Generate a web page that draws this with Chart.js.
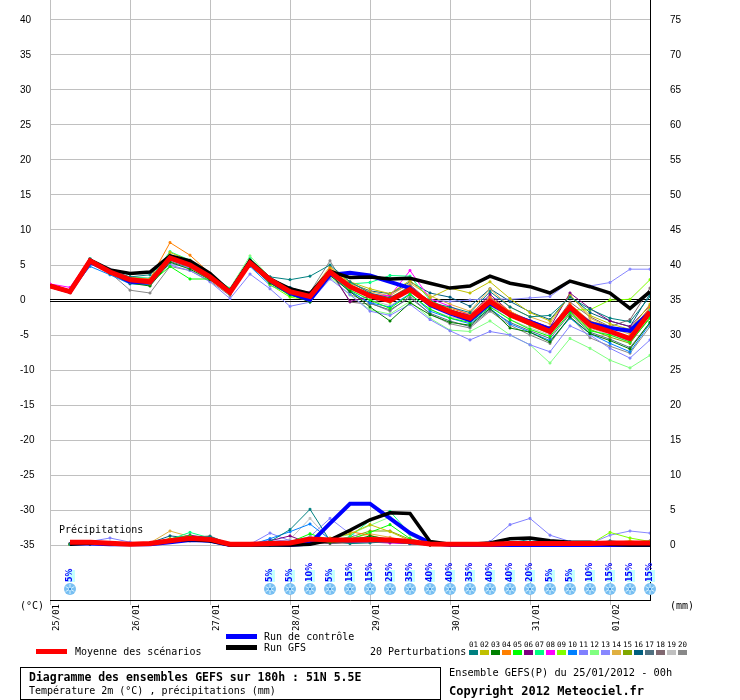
<!DOCTYPE html>
<html lang="fr">
<head>
<meta charset="utf-8">
<title>Diagramme des ensembles GEFS</title>
<script src="https://cdn.jsdelivr.net/npm/chart.js@4.4.1/dist/chart.umd.min.js"></script>
<style>
  body { margin: 0; background: #fff; }
  #wrap { position: relative; width: 740px; height: 700px; overflow: hidden;
          font-family: "DejaVu Sans Mono", monospace; color: #000; }
  #ensembleChart { position: absolute; left: 0; top: 0; }
  .txt { position: absolute; white-space: nowrap; font-size: 10px; line-height: 12px; }
  .bar { position: absolute; width: 31px; height: 5px; }
  .sw { position: absolute; width: 9px; height: 5px; top: 650px; }
  .num { position: absolute; top: 640px; width: 11px; text-align: center; font-size: 7.5px; line-height: 9px; }
  #infoBox { position: absolute; left: 20px; top: 667px; width: 419px; height: 31px; border: 1px solid #000; }
</style>
</head>
<body>
<div id="wrap">
  <canvas id="ensembleChart" width="740" height="700"></canvas>
  <div class="txt" style="left:59px;top:524px;">Précipitations</div>
  <div class="txt" style="left:20px;top:600px;">(°C)</div>
  <div class="txt" style="left:670px;top:600px;">(mm)</div>

  <div class="bar" style="left:36px;top:649px;background:#ff0000;"></div>
  <div class="txt" style="left:75px;top:646px;">Moyenne des scénarios</div>
  <div class="bar" style="left:226px;top:634px;background:#0000ff;"></div>
  <div class="txt" style="left:264px;top:631px;">Run de contrôle</div>
  <div class="bar" style="left:226px;top:645px;background:#000000;"></div>
  <div class="txt" style="left:264px;top:642px;">Run GFS</div>
  <div class="txt" style="left:370px;top:646px;">20 Perturbations</div>
  <div id="swatches"></div>

  <div id="infoBox"></div>
  <div class="txt" style="left:29px;top:671px;font-weight:bold;font-size:11.5px;">Diagramme des ensembles GEFS sur 180h : 51N 5.5E</div>
  <div class="txt" style="left:29px;top:685px;">Température 2m (°C) , précipitations (mm)</div>
  <div class="txt" style="left:449px;top:666px;font-size:10.3px;">Ensemble GEFS(P) du 25/01/2012 - 00h</div>
  <div class="txt" style="left:449px;top:684px;font-weight:bold;font-size:12px;line-height:14px;">Copyright 2012 Meteociel.fr</div>
</div>

<script>
//Time steps in hours since 25/01/2012 00h
const stepHours = [0, 6, 12, 18, 24, 30, 36, 42, 48, 54, 60, 66, 72, 78, 84, 90,
  96, 102, 108, 114, 120, 126, 132, 138, 144, 150, 156, 162, 168, 174, 180];
const dayTicks = [0, 24, 48, 72, 96, 120, 144, 168];
const dayLabels = ['25/01', '26/01', '27/01', '28/01', '29/01', '30/01', '31/01', '01/02'];
const tempTicks = [-35, -30, -25, -20, -15, -10, -5, 0, 5, 10, 15, 20, 25, 30, 35, 40];
const precipTicks = [0, 5, 10, 15, 20, 25, 30, 35, 40, 45, 50, 55, 60, 65, 70, 75];

//Temperature 2m (°C)
const meanTemp = [2.0, 1.2, 5.6, 4.0, 2.9, 2.6, 6.0, 5.0, 3.3, 1.1, 5.3, 2.9, 1.2, 0.5, 4.0, 1.9,
  0.6, -0.1, 1.5, -0.5, -1.7, -2.6, -0.2, -2.1, -3.3, -4.5, -1.0, -3.6, -4.5, -5.5, -1.7];
const controlTemp = [2.0, 1.2, 5.4, 4.1, 2.6, 2.5, 6.1, 5.1, 3.4, 1.2, 5.4, 2.8, 1.0, 0.0, 3.6, 3.9,
  3.5, 2.6, 1.7, -0.7, -1.9, -2.9, -0.5, -2.1, -3.1, -4.2, -1.2, -3.3, -4.0, -4.4, -1.7];
const gfsTemp = [2.0, 1.2, 5.7, 4.3, 3.8, 4.0, 6.3, 5.6, 3.8, 1.2, 5.6, 3.0, 1.6, 0.9, 4.1, 3.2,
  3.3, 3.0, 3.1, 2.4, 1.7, 2.0, 3.4, 2.4, 1.9, 1.0, 2.7, 1.9, 1.0, -1.2, 1.2];

//Precipitations (mm)
const meanPrecip = [null, 0.4, 0.4, 0.25, 0.1, 0.2, 0.6, 0.95, 0.8, 0.1, 0.1, 0.2, 0.3, 0.85, 0.7, 0.7,
  0.8, 0.7, 0.5, 0.15, 0.1, 0.1, 0.1, 0.2, 0.2, 0.2, 0.2, 0.2, 0.3, 0.3, 0.3];
const controlPrecip = [null, 0.2, 0.2, 0.1, 0.1, 0.1, 0.4, 0.7, 0.6, 0, 0, 0.1, 0, 0.2, 3.1, 5.9,
  5.9, 3.8, 1.7, 0.3, 0, 0, 0, 0, 0, 0, 0, 0, 0, 0, 0];
const gfsPrecip = [null, 0.1, 0.3, 0.2, 0.1, 0.2, 0.6, 0.8, 0.6, 0, 0, 0, 0, 0.1, 0.7, 2.1,
  3.6, 4.6, 4.5, 0.5, 0.1, 0.1, 0.3, 0.9, 1.0, 0.6, 0.4, 0.4, 0.1, 0, 0];

//20 perturbations
const perturbationColors = ['#008080', '#c0c000', '#008000', '#ff8000', '#00ff00',
  '#800080', '#00ff80', '#ff00ff', '#80ff00', '#0080ff',
  '#8080ff', '#80ff80', '#8888ff', '#e0b040', '#80a800',
  '#005f7f', '#507080', '#806870', '#c0c0c0', '#888888'];

const perturbationTemps = [
  [2.0, 1.1, 5.8, 4.2, 3.3, 3.6, 6.4, 5.4, 3.6, 1.4, 5.6, 3.3, 2.9, 3.4, 5.0, 2.6, 1.0, 0.3, 1.9, -0.4, -1.0, -1.8, 1.2, -1.0, -2.4, -2.2, 0.4, -1.3, -2.6, -3.1, 0.5],
  [2.1, 1.2, 5.5, 3.9, 2.5, 2.3, 6.8, 5.6, 3.5, 1.2, 5.6, 3.0, 1.5, 0.9, 4.4, 2.6, 1.6, 0.9, 2.8, 0.3, 1.7, 1.0, 2.6, 0.2, -1.8, -3.0, 0.6, -2.2, -3.4, -4.2, -0.6],
  [2.0, 1.2, 5.4, 3.8, 2.4, 2.0, 5.4, 4.4, 2.9, 0.9, 5.0, 2.4, 0.8, -0.3, 3.5, 1.2, -1.0, -3.0, -0.4, -2.1, -3.2, -3.6, -1.2, -4.0, -4.6, -6.0, -2.4, -4.8, -5.8, -7.0, -3.2],
  [2.0, 1.3, 5.7, 4.3, 3.2, 3.0, 8.2, 6.4, 3.8, 1.3, 5.5, 3.0, 1.5, 0.8, 4.6, 2.2, 0.9, 0.3, 2.0, -0.2, -1.2, -2.0, 0.4, -1.6, -3.0, -4.0, -0.6, -3.0, -3.8, -4.6, -1.0],
  [2.0, 1.1, 5.5, 3.8, 2.6, 2.4, 4.8, 3.0, 3.0, 0.9, 5.0, 2.5, 0.6, 0.2, 3.8, 1.4, 0.0, -1.2, 0.8, -1.3, -2.6, -3.2, -1.0, -2.8, -4.2, -5.2, -1.8, -4.4, -5.0, -6.0, -2.6],
  [1.9, 1.2, 5.6, 4.1, 3.0, 2.7, 5.9, 4.9, 3.1, 1.0, 5.2, 2.7, 1.1, 0.4, 4.2, -0.2, 0.5, 0.4, 1.6, -0.1, -1.4, -2.2, 0.8, -1.7, -2.9, -3.9, 1.0, -1.2, -3.0, -3.8, -0.8],
  [2.0, 1.3, 5.9, 4.0, 3.3, 3.1, 6.9, 5.7, 3.7, 1.6, 5.9, 3.1, 1.4, 0.7, 4.3, 2.3, 2.5, 3.5, 3.4, 0.0, -1.4, -2.3, 0.0, -2.0, -3.6, -4.6, -0.8, -3.4, -4.6, -5.6, -1.4],
  [2.3, 1.8, 5.9, 4.1, 2.8, 2.4, 6.1, 5.0, 3.2, 1.1, 5.4, 2.6, 1.3, 1.1, 4.1, 1.7, 0.8, 0.6, 4.2, 0.2, -0.9, -2.2, 0.3, -2.1, -3.5, -4.8, -0.8, -3.5, -4.7, -5.9, -1.8],
  [2.0, 1.2, 5.7, 4.0, 2.8, 2.6, 5.8, 4.9, 3.3, 1.1, 5.8, 2.2, 0.4, 0.0, 3.9, 1.8, 0.6, -0.4, 1.2, -0.9, -2.0, -2.8, -0.6, -2.2, -3.7, -4.8, -1.4, -1.4, 0.0, 0.1, 2.9],
  [2.0, 1.1, 4.8, 3.6, 2.3, 2.2, 5.8, 4.8, 3.4, 1.3, 4.8, 2.1, 0.9, 0.2, 3.6, 1.2, -0.4, -1.0, 0.9, -1.6, -2.6, -3.4, -1.2, -3.4, -4.6, -5.8, -2.6, -4.8, -6.2, -7.4, -3.4],
  [2.0, 1.3, 5.3, 4.4, 3.2, 3.1, 5.0, 4.2, 2.6, 0.2, 3.7, 1.6, -0.9, -0.3, 3.0, 0.8, -1.6, -2.2, -0.6, -2.8, -4.4, -5.7, -4.5, -5.0, -6.4, -7.4, -3.7, -5.0, -6.9, -8.3, -5.7],
  [2.1, 1.3, 5.7, 4.2, 3.1, 2.9, 6.4, 5.5, 3.5, 1.7, 6.3, 3.2, 1.1, -0.3, 3.3, 0.7, -1.4, -2.0, -0.2, -2.6, -4.3, -4.5, -3.0, -5.0, -6.4, -9.0, -5.5, -6.9, -8.6, -9.7, -7.9],
  [2.0, 1.2, 5.5, 4.2, 3.0, 2.8, 5.2, 4.6, 3.4, 1.0, 5.0, 2.6, 1.0, 0.3, 3.7, 1.6, 0.4, 0.0, 1.2, 0.0, -0.2, 0.0, 0.2, 0.1, 0.3, 0.5, 2.6, 2.0, 2.5, 4.4, 4.4],
  [2.0, 1.2, 5.6, 4.0, 2.9, 2.8, 6.2, 5.2, 3.3, 1.0, 5.4, 2.8, 1.6, 1.0, 4.8, 2.4, 1.2, 0.6, 2.4, 0.6, -0.6, -1.6, 1.6, -1.0, -2.4, -3.4, 0.8, -2.6, -3.9, -4.9, -1.2],
  [2.0, 1.2, 5.6, 4.1, 2.9, 2.7, 6.1, 5.1, 3.3, 1.1, 5.3, 2.5, 1.0, 0.6, 4.0, 2.0, 0.8, 0.1, 1.5, -0.6, -1.8, -2.6, -0.4, -2.4, -3.4, -4.6, -1.6, -4.2, -5.3, -6.2, -2.4],
  [2.0, 1.2, 5.6, 3.9, 2.7, 2.5, 6.0, 4.9, 3.2, 1.1, 5.4, 2.9, 1.8, 0.9, 4.0, 2.4, 1.3, 0.9, 2.6, 1.0, 0.4, -0.9, 1.6, -0.2, -1.7, -2.8, 0.6, -1.8, -3.0, -3.8, 0.9],
  [2.0, 1.1, 5.5, 3.9, 2.5, 2.1, 5.5, 4.6, 3.0, 0.9, 5.2, 2.6, 1.0, 0.3, 3.8, 1.3, -0.5, -1.4, 0.3, -1.9, -3.0, -3.8, -1.4, -3.2, -4.4, -5.5, -2.0, -4.6, -5.6, -6.8, -3.2],
  [2.0, 1.2, 5.7, 4.0, 2.7, 2.4, 5.7, 4.7, 3.1, 1.0, 5.7, 2.4, 0.9, 0.2, 4.2, -0.3, -0.6, 0.9, 2.2, -0.3, -1.6, -2.5, 0.4, -1.8, -3.1, -4.2, -0.3, -2.4, -3.8, -2.8, 1.7],
  [2.0, 1.2, 5.5, 4.1, 2.9, 2.6, 6.3, 5.3, 3.4, 1.2, 5.5, 2.7, 1.3, 0.4, 4.0, 1.5, 0.0, -0.8, 0.8, -1.4, -2.4, -3.0, -0.8, -2.8, -4.0, -5.0, -1.8, -4.0, -5.0, -6.1, -2.6],
  [2.0, 1.0, 5.9, 3.9, 1.4, 1.0, 4.8, 4.2, 2.7, 0.6, 5.2, 3.3, 1.6, 1.1, 5.6, 0.8, -0.4, -1.6, 0.6, -2.0, -3.4, -4.0, -1.6, -3.6, -5.0, -6.2, -2.4, -5.4, -6.6, -7.6, -3.8]
];

const perturbationPrecip = [
  [null, 0.1, 0.2, 0.3, 0.2, 0.1, 0.6, 0.9, 1.2, 0.2, 0, 0.5, 2.2, 5.1, 0.6, 0.2, 0.3, 0.5, 0.2, 0, 0, 0, 0.1, 0.3, 0.8, 0.4, 0.2, 0.1, 0.6, 0.3, 0.1],
  [null, 0.1, 0.2, 0.2, 0.1, 0.2, 0.9, 0.8, 0.7, 0.1, 0, 0.2, 0.3, 0.6, 1.0, 1.6, 2.9, 1.9, 0.6, 0, 0, 0, 0, 0.1, 0.2, 0.1, 0, 0, 0.3, 0.6, 0.2],
  [null, 0.1, 0.1, 0.1, 0.1, 0.2, 0.6, 0.9, 0.9, 0.1, 0, 0, 0.2, 0.4, 0.3, 0.6, 1.3, 0.8, 0.3, 0, 0, 0, 0, 0.1, 0.3, 0.1, 0, 0, 0.2, 0.1, 0],
  [null, 0.1, 0.2, 0.2, 0.2, 0.3, 0.7, 0.6, 0.5, 0.1, 0, 0.1, 0.3, 0.9, 0.8, 1.9, 1.4, 0.6, 0.3, 0, 0, 0, 0, 0.1, 0.1, 0, 0, 0, 0.2, 0.1, 0],
  [null, 0.1, 0.3, 0.2, 0.1, 0.2, 0.9, 1.3, 0.8, 0.2, 0, 0.2, 0.4, 1.6, 0.7, 0.8, 1.8, 2.9, 0.9, 0.1, 0, 0, 0, 0.1, 0.2, 0, 0, 0, 0.4, 0.2, 0.1],
  [null, 0.2, 0.2, 0.3, 0.2, 0.3, 0.8, 1.4, 1.0, 0.2, 0, 0.6, 1.3, 0.2, 0.5, 0.4, 0.6, 0.4, 0.2, 0, 0, 0, 0.2, 0.3, 0.2, 0.1, 0, 0, 0.1, 0, 0],
  [null, 0.1, 0.2, 0.2, 0.2, 0.2, 0.8, 1.8, 1.0, 0.1, 0, 0.1, 0.3, 0.5, 0.4, 1.2, 3.5, 4.8, 1.6, 0.1, 0, 0, 0, 0.1, 0.1, 0, 0, 0, 0.1, 0.1, 0],
  [null, 0.1, 0.1, 0.2, 0.1, 0.2, 0.5, 0.8, 0.7, 0.1, 0, 0.2, 0.2, 0.4, 0.3, 0.5, 0.4, 0.3, 0.2, 0, 0, 0, 0, 0.1, 0.1, 0, 0, 0, 0.1, 0.1, 0],
  [null, 0.1, 0.2, 0.2, 0.1, 0.2, 0.6, 0.8, 0.9, 0.1, 0, 0.1, 0.3, 0.7, 0.4, 0.6, 1.0, 0.8, 0.3, 0, 0, 0, 0, 0.1, 0.2, 0.1, 0, 0.1, 1.8, 1.0, 0.5],
  [null, 0.2, 0.4, 0.3, 0.2, 0.2, 0.7, 1.0, 0.9, 0.2, 0, 0.9, 1.9, 3.0, 0.8, 0.4, 0.6, 0.5, 0.3, 0, 0, 0, 0, 0.1, 0.2, 0.1, 0, 0, 0.2, 0.1, 0],
  [null, 0.2, 0.5, 1.0, 0.4, 0.2, 0.6, 0.9, 0.8, 0.2, 0.1, 1.7, 0.6, 0.5, 0.9, 0.7, 0.5, 0.4, 0.2, 0, 0, 0, 0.5, 2.9, 3.8, 1.4, 0.5, 0.1, 0.2, 0.1, 0],
  [null, 0.1, 0.2, 0.2, 0.1, 0.2, 0.8, 1.1, 0.8, 0.1, 0, 0.2, 0.4, 1.1, 0.9, 1.5, 2.8, 4.0, 1.4, 0.1, 0, 0, 0, 0.1, 0.2, 0, 0, 0, 0.3, 0.2, 0.1],
  [null, 0.1, 0.3, 0.4, 0.2, 0.2, 0.5, 0.8, 0.7, 0.2, 0, 0.8, 0.5, 1.2, 3.8, 1.6, 0.6, 0.4, 0.2, 0, 0, 0, 0, 0.1, 0.1, 0.1, 0, 0.2, 1.4, 2.0, 1.7],
  [null, 0.1, 0.2, 0.2, 0.2, 0.3, 2.0, 1.2, 0.8, 0.1, 0, 0.1, 0.3, 0.6, 0.5, 0.9, 1.6, 1.1, 0.4, 0, 0, 0, 0, 0.1, 0.1, 0, 0, 0, 0.3, 0.1, 0],
  [null, 0.1, 0.2, 0.2, 0.1, 0.2, 0.7, 0.9, 0.6, 0.1, 0, 0.1, 0.2, 0.5, 0.6, 1.1, 2.0, 2.0, 0.8, 0.1, 0, 0, 0, 0.1, 0.1, 0, 0, 0, 0.1, 0.1, 0],
  [null, 0.1, 0.2, 0.2, 0.2, 0.3, 1.3, 1.0, 1.1, 0.2, 0, 0.1, 0.3, 0.4, 0.3, 0.4, 0.5, 0.4, 0.2, 0, 0, 0, 0, 0.2, 0.3, 0.1, 0, 0, 0.2, 0.1, 0],
  [null, 0.1, 0.2, 0.2, 0.2, 0.2, 0.7, 0.9, 1.2, 0.1, 0, 0.1, 0.2, 0.5, 0.3, 0.4, 0.6, 0.5, 0.2, 0, 0, 0, 0, 0.1, 0.2, 0, 0, 0, 0.1, 0.1, 0],
  [null, 0.1, 0.2, 0.2, 0.1, 0.2, 0.6, 0.8, 0.7, 0.1, 0, 0.1, 0.3, 0.3, 0.2, 0.3, 0.4, 0.3, 0.2, 0, 0, 0, 0, 0.1, 0.1, 0, 0, 0, 0.2, 0.4, 0.6],
  [null, 0.1, 0.2, 0.2, 0.2, 0.2, 0.7, 0.9, 0.8, 0.1, 0, 0.3, 0.8, 3.8, 0.7, 0.5, 0.6, 0.4, 0.2, 0, 0, 0, 0, 0.1, 0.1, 0, 0, 0, 0.1, 0.1, 0],
  [null, 0.1, 0.2, 0.3, 0.2, 0.2, 0.8, 1.1, 1.3, 0.1, 0, 0.2, 0.4, 0.6, 0.4, 0.4, 0.7, 0.5, 0.3, 0, 0, 0, 0, 0.1, 0.2, 0, 0, 0, 0.2, 0.1, 0]
];

//Snow probability icons
const snowHours = [6, 66, 72, 78, 84, 90, 96, 102, 108, 114, 120, 126, 132, 138, 144, 150, 156, 162, 168, 174, 180];
const snowChances = [5, 5, 5, 10, 5, 15, 15, 25, 35, 40, 40, 35, 40, 40, 20, 5, 5, 10, 15, 15, 15];


//Pair values with their time step
function toPoints(values) {
  return values.map((v, i) => ({ x: stepHours[i], y: v }));
}

//Build the little coloured legend of the 20 members
function buildSwatches() {
  const box = document.getElementById('swatches');
  perturbationColors.forEach((color, k) => {
    const left = 469 + k * 11;
    const num = document.createElement('div');
    num.className = 'num txt';
    num.style.left = (left - 1) + 'px';
    num.textContent = String(k + 1).padStart(2, '0');
    box.appendChild(num);
    const sw = document.createElement('div');
    sw.className = 'sw';
    sw.style.left = left + 'px';
    sw.style.background = color;
    box.appendChild(sw);
  });
}

//Draw one snowflake icon
function drawSnowflake(ctx, x, y) {
  ctx.fillStyle = '#78bff2';
  ctx.beginPath();
  ctx.arc(x, y, 6, 0, Math.PI * 2);
  ctx.fill();
  ctx.strokeStyle = '#d6f2ff';
  ctx.lineWidth = 1;
  for (let k = 0; k < 3; k++) {
    const a = k * Math.PI / 3 + Math.PI / 6;
    ctx.beginPath();
    ctx.moveTo(x - 5 * Math.cos(a), y - 5 * Math.sin(a));
    ctx.lineTo(x + 5 * Math.cos(a), y + 5 * Math.sin(a));
    ctx.stroke();
  }
  ctx.fillStyle = '#3c8fe0';
  ctx.fillRect(x - 1, y - 1, 2, 2);
}

//Zero line and snow icons
const meteoPlugin = {
  id: 'meteoOverlay',
  beforeDatasetsDraw(chart) {
    const { ctx, chartArea, scales } = chart;
    const y0 = scales.y.getPixelForValue(0);
    ctx.save();
    ctx.strokeStyle = '#000';
    ctx.lineWidth = 1;
    [Math.floor(y0 - 1) + 0.5, Math.floor(y0 + 1) + 0.5].forEach(py => {
      ctx.beginPath();
      ctx.moveTo(chartArea.left, py);
      ctx.lineTo(chartArea.right, py);
      ctx.stroke();
    });
    ctx.restore();
  },
  afterDatasetsDraw(chart) {
    const { ctx, chartArea, scales } = chart;
    ctx.save();
    snowHours.forEach((h, k) => {
      const x = Math.round(scales.x.getPixelForValue(h));
      const bottom = chartArea.bottom;
      ctx.fillStyle = '#c4ffff';
      ctx.fillRect(x - 3, bottom - 30, 8, 12);
      ctx.save();
      ctx.translate(x, bottom - 18);
      ctx.rotate(-Math.PI / 2);
      ctx.fillStyle = '#0000ff';
      ctx.font = 'bold 8px "DejaVu Sans"';
      ctx.textAlign = 'left';
      ctx.textBaseline = 'middle';
      ctx.fillText(snowChances[k] + '%', 0, 0);
      ctx.restore();
      drawSnowflake(ctx, x, bottom - 11);
    });
    ctx.restore();
  }
};

//Build all datasets
function buildDatasets() {
  const sets = [];
  sets.push({ label: 'Moyenne des scénarios', data: toPoints(meanTemp), borderColor: '#ff0000', borderWidth: 5, order: 0 });
  sets.push({ label: 'Run GFS', data: toPoints(gfsTemp), borderColor: '#000000', borderWidth: 3.5, order: 1 });
  sets.push({ label: 'Run de contrôle', data: toPoints(controlTemp), borderColor: '#0000ff', borderWidth: 4, order: 2 });
  sets.push({ label: 'Moyenne précip.', data: toPoints(meanPrecip), yAxisID: 'y2', borderColor: '#ff0000', borderWidth: 5, order: 0 });
  sets.push({ label: 'GFS précip.', data: toPoints(gfsPrecip), yAxisID: 'y2', borderColor: '#000000', borderWidth: 3.5, order: 1 });
  sets.push({ label: 'Contrôle précip.', data: toPoints(controlPrecip), yAxisID: 'y2', borderColor: '#0000ff', borderWidth: 4, order: 2 });

  perturbationColors.forEach((color, k) => {
    const name = 'P' + String(k + 1).padStart(2, '0');
    sets.push({ label: name, data: toPoints(perturbationTemps[k]), borderColor: color, backgroundColor: color,
      borderWidth: 1, pointRadius: 1.3, pointStyle: 'rect', order: 3 + k });
    sets.push({ label: name + ' précip.', data: toPoints(perturbationPrecip[k]), yAxisID: 'y2', borderColor: color,
      backgroundColor: color, borderWidth: 1, pointRadius: 1.3, pointStyle: 'rect', order: 3 + k });
  });
  return sets;
}

//Create the chart
function createChart() {
  const canvasElement = document.getElementById('ensembleChart');
  const chartContext = canvasElement.getContext('2d');

  /* global Chart */
  Chart.defaults.font.family = '"Liberation Sans", Arial, sans-serif';
  Chart.defaults.font.size = 10;
  Chart.defaults.color = '#000';

  return new Chart(chartContext, {
    type: 'line',
    data: { datasets: buildDatasets() },
    options: {
      responsive: false,
      animation: false,
      devicePixelRatio: 1,
      layout: { autoPadding: false, padding: { left: 20, top: 0, right: 0, bottom: 0 } },
      elements: { line: { tension: 0, fill: false }, point: { radius: 0, borderWidth: 0 } },
      plugins: { legend: { display: false }, tooltip: { enabled: false } },
      scales: {
        x: {
          type: 'linear',
          min: 0,
          max: 180,
          afterBuildTicks: scale => { scale.ticks = dayTicks.map(v => ({ value: v })); },
          afterFit: scale => {
            scale.height = 100;
            scale.paddingLeft = 0;
            scale.paddingRight = 0;
          },
          grid: { color: '#c0c0c0', tickLength: 5, lineWidth: 1 },
          border: { color: '#000', width: 1 },
          ticks: {
            minRotation: 90,
            maxRotation: 90,
            labelOffset: 7,
            padding: -1,
            autoSkip: false,
            font: { family: '"DejaVu Sans Mono", monospace', size: 9 },
            callback: value => dayLabels[dayTicks.indexOf(value)]
          }
        },
        y: {
          position: 'left',
          min: -300 / 7,
          max: 300 / 7,
          afterBuildTicks: scale => { scale.ticks = tempTicks.map(v => ({ value: v })); },
          afterFit: scale => {
            scale.width = 30;
            scale.paddingTop = 0;
            scale.paddingBottom = 0;
          },
          grid: {
            drawTicks: false,
            color: ctx => (ctx.tick && ctx.tick.value === 0 ? 'rgba(0,0,0,0)' : '#c0c0c0')
          },
          border: { display: false },
          ticks: { crossAlign: 'far', padding: 0 }
        },
        y2: {
          position: 'right',
          min: -55 / 7,
          max: 545 / 7,
          afterBuildTicks: scale => { scale.ticks = precipTicks.map(v => ({ value: v })); },
          afterFit: scale => {
            scale.width = 90;
            scale.paddingTop = 0;
            scale.paddingBottom = 0;
          },
          grid: { display: false, drawTicks: false },
          border: { color: '#000', width: 1 },
          ticks: { padding: 20 }
        }
      }
    },
    plugins: [meteoPlugin]
  });
}

//Orchestrator
function initializeChart() {
  try {
    buildSwatches();
    createChart();
  } catch (error) {
    console.error('Failed to initialize chart:', error);
  }
}

document.addEventListener('DOMContentLoaded', initializeChart);
</script>
</body>
</html>
